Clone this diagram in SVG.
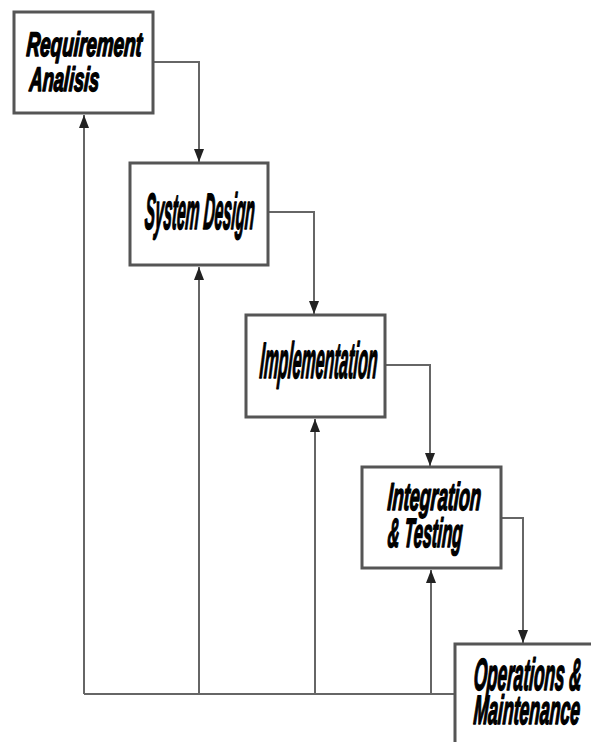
<svg xmlns="http://www.w3.org/2000/svg" width="591" height="742" viewBox="0 0 591 742">
  <style>
    .box { fill: #ffffff; stroke: #555555; stroke-width: 3; }
    .lbl { font-family: "Liberation Sans", Arial, sans-serif; font-weight: bold; font-style: italic; fill: #000000; stroke: #000000; stroke-width: 1.6; stroke-linejoin: round; }
    .conn { fill: none; stroke: #666666; stroke-width: 2; }
  </style>
  <defs>
    <marker id="arr" markerWidth="14" markerHeight="10" refX="13" refY="5" orient="auto" markerUnits="userSpaceOnUse">
      <path d="M0,0 L13,5 L0,10 Z" fill="#222222"/>
    </marker>
  </defs>
  <rect x="0" y="0" width="591" height="742" fill="#ffffff"/>
  <g id="connectors">
    <path class="conn" d="M153,62 H199 V162" marker-end="url(#arr)"/>
    <path class="conn" d="M268,212 H314 V314" marker-end="url(#arr)"/>
    <path class="conn" d="M385,365 H430 V466" marker-end="url(#arr)"/>
    <path class="conn" d="M501,518 H523 V643" marker-end="url(#arr)"/>
    <path class="conn" d="M84,694 H455"/>
    <path class="conn" d="M84,694 V115" marker-end="url(#arr)"/>
    <path class="conn" d="M199,694 V267" marker-end="url(#arr)"/>
    <path class="conn" d="M315,694 V419" marker-end="url(#arr)"/>
    <path class="conn" d="M431,694 V570" marker-end="url(#arr)"/>
  </g>
  <g id="requirement">
    <rect class="box" x="14" y="12" width="139" height="101"/>
    <text class="lbl" font-size="34" transform="translate(26,56) skewX(-4) scale(0.555,1)">Requirement</text>
    <text class="lbl" font-size="34" transform="translate(29,91) skewX(-4) scale(0.535,1)">Analisis</text>
  </g>
  <g id="system-design">
    <rect class="box" x="130" y="163" width="138" height="102"/>
    <text class="lbl" font-size="51" transform="translate(144,229) skewX(-4) scale(0.3,1)">System Design</text>
  </g>
  <g id="implementation">
    <rect class="box" x="246" y="315" width="139" height="102"/>
    <text class="lbl" font-size="51" transform="translate(259,378) skewX(-4) scale(0.312,1)">Implementation</text>
  </g>
  <g id="integration">
    <rect class="box" x="362" y="467" width="139" height="101"/>
    <text class="lbl" font-size="39" transform="translate(387,510) skewX(-4) scale(0.463,1)">Integration</text>
    <text class="lbl" font-size="41" transform="translate(387,547) skewX(-4) scale(0.403,1)">&amp; Testing</text>
  </g>
  <g id="operations">
    <rect class="box" x="455" y="644" width="150" height="110"/>
    <text class="lbl" font-size="45" transform="translate(473,690) skewX(-4) scale(0.382,1)">Operations &amp;</text>
    <text class="lbl" font-size="41" transform="translate(473,724) skewX(-4) scale(0.428,1)">Maintenance</text>
  </g>
</svg>
